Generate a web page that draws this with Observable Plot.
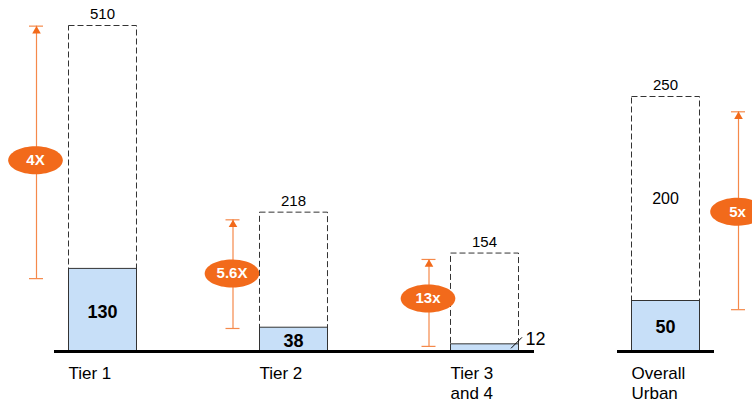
<!DOCTYPE html>
<html>
<head>
<meta charset="utf-8">
<script src="https://cdn.jsdelivr.net/npm/d3@7"></script>
<script src="https://cdn.jsdelivr.net/npm/@observablehq/plot@0.6"></script>
<style>
  html, body { margin: 0; padding: 0; background: #fff; overflow: hidden; }
  #chart { display: flex; width: 752px; height: 408px; overflow: hidden; }
  #chart svg { overflow: visible; }
</style>
</head>
<body>
<div id="chart"></div>
<script>
// ---- data ----
const tiers = ["Tier 1", "Tier 2", "Tier 3 and 4"];
const tierLabels = ["Tier 1", "Tier 2", "Tier 3\nand 4"];
const tierCurrent = [130, 38, 12];
const tierPotential = [510, 218, 154];
const tierMultiple = ["4X", "5.6X", "13x"];
const tierArrowTop = [509, 206, 144];
const tierArrowBottom = [114, 36, 8];
const tierOvalY = [299, 122, 83];

const overallCategory = ["Overall Urban"];
const overallLabels = ["Overall\nUrban"];
const overallCurrent = [50];
const overallPotential = [250];
const overallGap = [200];
const overallMultiple = ["5x"];
const overallArrowTop = [235];
const overallArrowBottom = [41];
const overallOvalY = [137];

// ---- build rows ----
const tierRows = tiers.map((c, i) => ({
  cat: c, label: tierLabels[i], current: tierCurrent[i], potential: tierPotential[i],
  multiple: tierMultiple[i], arrowTop: tierArrowTop[i], arrowBottom: tierArrowBottom[i], ovalY: tierOvalY[i]
}));
const overallRows = overallCategory.map((c, i) => ({
  cat: c, label: overallLabels[i], current: overallCurrent[i], potential: overallPotential[i],
  gap: overallGap[i], multiple: overallMultiple[i], arrowTop: overallArrowTop[i],
  arrowBottom: overallArrowBottom[i], ovalY: overallOvalY[i]
}));

// ---- styles ----
const ORANGE = "#f26a1b";
const ORANGE_LINE = "#f5894a";
const FILL = "#c7dff8";
const FONT = "'Liberation Sans', Arial, sans-serif";

const ellipse = {
  draw(ctx, size) {
    const r = Math.sqrt(size / Math.PI);
    const rx = r * 1.95, ry = r, k = 0.5523;
    ctx.moveTo(rx, 0);
    ctx.bezierCurveTo(rx, ry * k, rx * k, ry, 0, ry);
    ctx.bezierCurveTo(-rx * k, ry, -rx, ry * k, -rx, 0);
    ctx.bezierCurveTo(-rx, -ry * k, -rx * k, -ry, 0, -ry);
    ctx.bezierCurveTo(rx * k, -ry, rx, -ry * k, rx, 0);
    ctx.closePath();
  }
};

function arrowMarks(row, dx) {
  return [
    Plot.ruleX([row], {x: "cat", y1: "arrowBottom", y2: "arrowTop", stroke: ORANGE_LINE, strokeWidth: 1.2, dx}),
    Plot.tickY([row], {x: "cat", y: "arrowTop", stroke: ORANGE_LINE, strokeWidth: 1.2, insetLeft: 27, insetRight: 27, dx}),
    Plot.tickY([row], {x: "cat", y: "arrowBottom", stroke: ORANGE_LINE, strokeWidth: 1.2, insetLeft: 27, insetRight: 27, dx}),
    Plot.dot([row], {x: "cat", y: "arrowTop", symbol: "triangle", r: 3.2, fill: ORANGE, stroke: "none", dx, dy: 4.8}),
    Plot.dot([row], {x: "cat", y: "ovalY", symbol: ellipse, r: 14, fill: ORANGE, stroke: "none", dx: dx - 1}),
    Plot.text([row], {x: "cat", y: "ovalY", text: "multiple", fill: "white", fontWeight: "bold", fontSize: 15, dx: dx - 1})
  ];
}

const arrowDx = [-66, -60.5, -55.5];
const dashed = {fill: "none", stroke: "#333", strokeWidth: 1, strokeDasharray: "6,3", dx: 0.5, dy: 0.5};
const solid = {fill: FILL, stroke: "#333", strokeWidth: 1, dx: 0.5, dy: 0.5};

const plot1 = Plot.plot({
  width: 590, height: 408,
  marginLeft: 54, marginRight: 56, marginTop: 25, marginBottom: 57,
  style: {fontFamily: FONT, background: "transparent", overflow: "visible", color: "#000"},
  x: {domain: tiers, range: [68, 518], paddingInner: 0.644, paddingOuter: 0, round: false, axis: null},
  y: {domain: [0, 510], range: [351, 25], axis: null},
  marks: [
    Plot.barY(tierRows, {x: "cat", y: "potential", ...dashed}),
    Plot.barY(tierRows, {x: "cat", y: "current", ...solid}),
    Plot.ruleY([0], {stroke: "#000", strokeWidth: 3}),
    Plot.text(tierRows, {x: "cat", y: "potential", text: d => String(d.potential), dy: -11, fontSize: 15}),
    Plot.text(tierRows, {filter: (d, i) => i < 2, x: "cat", y: d => d.current / 2, text: d => String(d.current), fontWeight: "bold", fontSize: 18, dy: 2}),
    Plot.text(tierRows, {filter: (d, i) => i === 2, x: "cat", y: "current", text: d => String(d.current), fontSize: 18, textAnchor: "start", dx: 41, dy: -5}),
    (index, scales) => {
      const r = tierRows[2];
      const xr = scales.x(r.cat) + scales.x.bandwidth();
      const yv = scales.y(r.current);
      return d3.create("svg:line")
        .attr("x1", xr - 7).attr("y1", yv + 5)
        .attr("x2", xr + 4).attr("y2", yv - 6)
        .attr("stroke", "#000").attr("stroke-width", 1)
        .node();
    },
    Plot.text(tierRows, {x: "cat", text: "label", frameAnchor: "bottom", textAnchor: "start", lineAnchor: "top", lineHeight: 1.18, fontSize: 17, dx: -34, dy: 13}),
    ...tierRows.flatMap((row, i) => arrowMarks(row, arrowDx[i]))
  ]
});

const plot2 = Plot.plot({
  width: 162, height: 408,
  marginLeft: 27, marginRight: 38, marginTop: 96, marginBottom: 57,
  style: {fontFamily: FONT, background: "transparent", overflow: "visible", color: "#000"},
  x: {domain: overallCategory, range: [41, 109], paddingInner: 0, paddingOuter: 0, round: false, axis: null},
  y: {domain: [0, 250], range: [351, 96], axis: null},
  marks: [
    Plot.barY(overallRows, {x: "cat", y: "potential", ...dashed}),
    Plot.barY(overallRows, {x: "cat", y: "current", ...solid}),
    Plot.ruleY([0], {stroke: "#000", strokeWidth: 3}),
    Plot.text(overallRows, {x: "cat", y: "potential", text: d => String(d.potential), dy: -11, fontSize: 15}),
    Plot.text(overallRows, {x: "cat", y: d => (d.potential + d.current) / 2, text: d => String(d.gap), fontSize: 16}),
    Plot.text(overallRows, {x: "cat", y: d => d.current / 2, text: d => String(d.current), fontWeight: "bold", fontSize: 18, dy: 1}),
    Plot.text(overallRows, {x: "cat", text: "label", frameAnchor: "bottom", textAnchor: "start", lineAnchor: "top", lineHeight: 1.18, fontSize: 17, dx: -34, dy: 13}),
    ...overallRows.flatMap(row => arrowMarks(row, 73))
  ]
});

const chart = document.getElementById("chart");
chart.appendChild(plot1);
chart.appendChild(plot2);
</script>
</body>
</html>
